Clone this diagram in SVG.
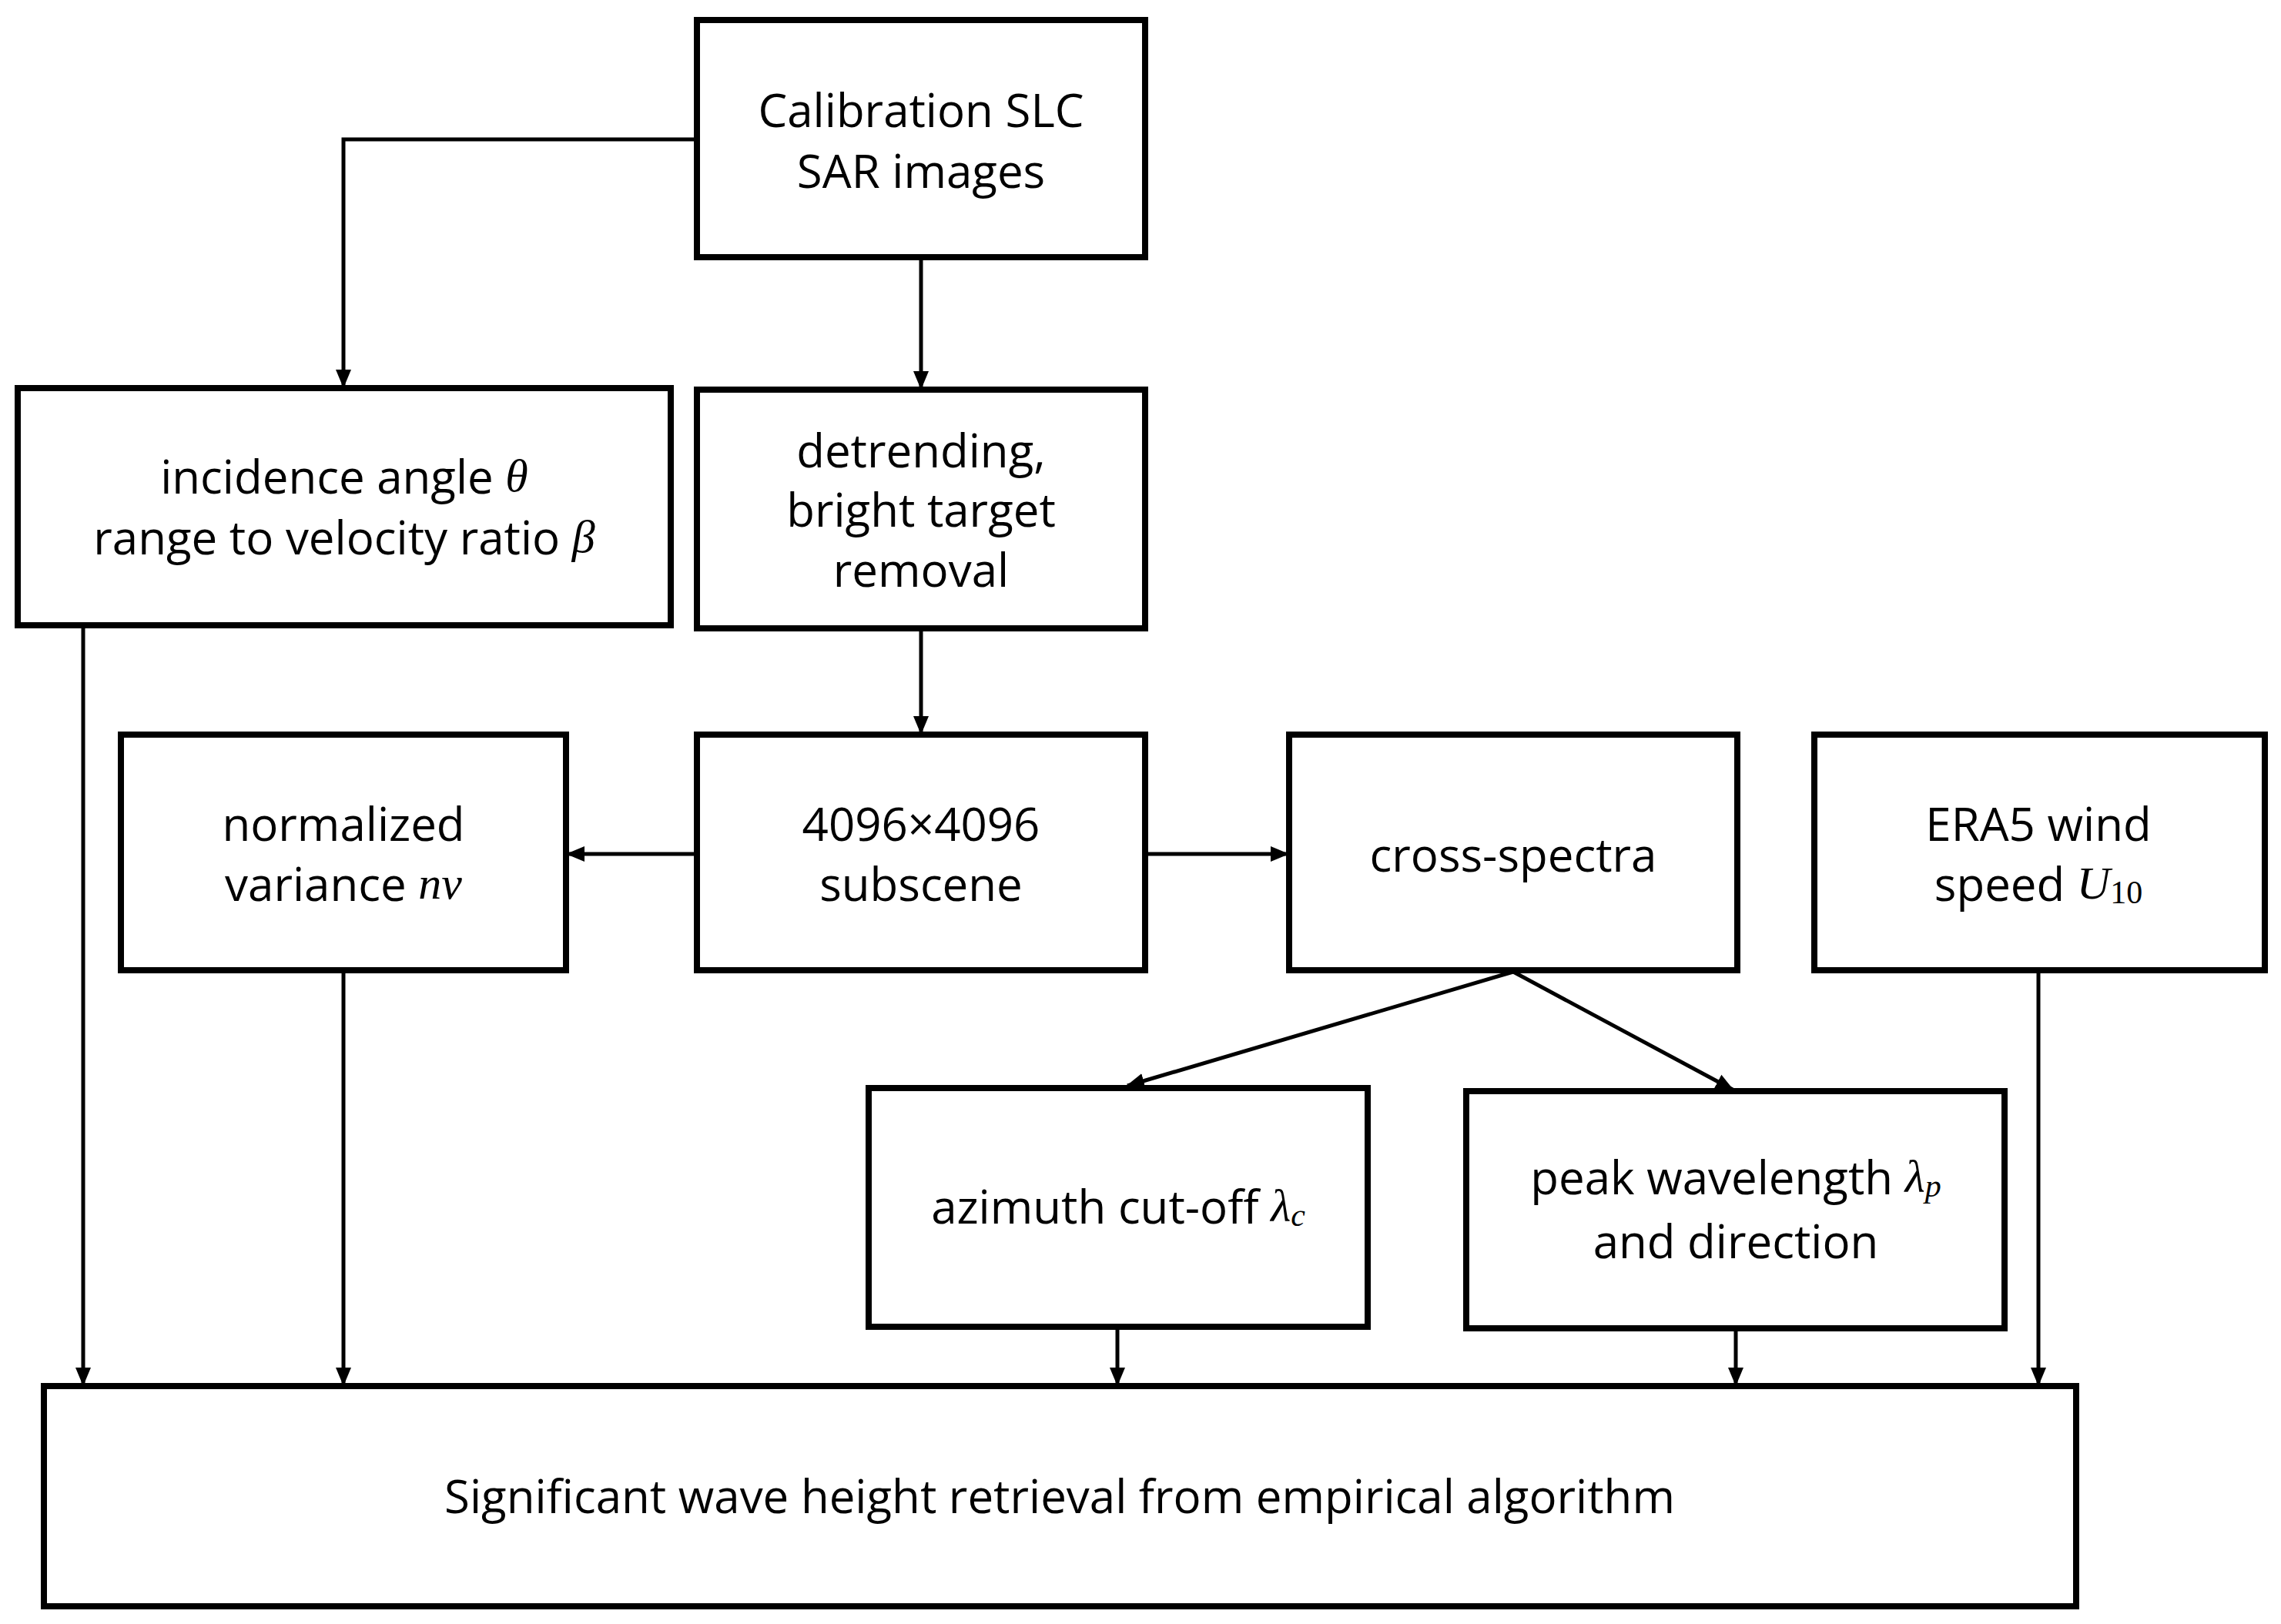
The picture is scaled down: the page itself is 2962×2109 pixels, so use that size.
<svg xmlns="http://www.w3.org/2000/svg" width="2962" height="2109" viewBox="0 0 2962 2109">
<style>
.b{fill:#fff;stroke:#000;stroke-width:8}
.t{font-family:"Open Sans","Noto Sans",sans-serif;font-size:60px;text-anchor:middle;dominant-baseline:central;fill:#000}
.m{font-family:"Liberation Serif",serif;font-style:italic}
.c{stroke:#000;stroke-width:5;fill:none;marker-end:url(#a)}
</style>
<defs><marker id="a" markerUnits="userSpaceOnUse" markerWidth="26" markerHeight="24" refX="22" refY="12" orient="auto"><path d="M0,2 L24,12 L0,22 Z" fill="#000"/></marker></defs>
<rect width="2962" height="2109" fill="#fff"/>
<g id="connectors">
<path class="c" d="M905,181 H446 V502"/>
<path class="c" d="M1196,334 V504"/>
<path class="c" d="M1196,816 V952"/>
<path class="c" d="M905,1109 H737"/>
<path class="c" d="M1487,1109 H1672"/>
<path class="c" d="M1965,1262 L1464,1410"/>
<path class="c" d="M1965,1262 L2250,1415"/>
<path class="c" d="M108,812 V1798"/>
<path class="c" d="M446,1260 V1798"/>
<path class="c" d="M1451,1723 V1798"/>
<path class="c" d="M2254,1725 V1798"/>
<path class="c" d="M2647,1260 V1798"/>
</g>
<g id="n1"><rect class="b" x="905" y="26" width="582" height="308"/><text class="t" x="1196" y="142">Calibration SLC</text><text class="t" x="1196" y="221">SAR images</text></g>
<g id="n2"><rect class="b" x="23" y="504" width="848" height="308"/><text class="t" x="447" y="618">incidence angle <tspan class="m">θ</tspan></text><text class="t" x="447" y="697">range to velocity ratio <tspan class="m">β</tspan></text></g>
<g id="n3"><rect class="b" x="905" y="506" width="582" height="310"/><text class="t" x="1196" y="584">detrending,</text><text class="t" x="1196" y="661">bright target</text><text class="t" x="1196" y="739">removal</text></g>
<g id="n4"><rect class="b" x="157" y="954" width="578" height="306"/><text class="t" x="446" y="1069">normalized</text><text class="t" x="446" y="1147">variance <tspan class="m">nv</tspan></text></g>
<g id="n5"><rect class="b" x="905" y="954" width="582" height="306"/><text class="t" x="1196" y="1069">4096×4096</text><text class="t" x="1196" y="1147">subscene</text></g>
<g id="n6"><rect class="b" x="1674" y="954" width="582" height="306"/><text class="t" x="1965" y="1109">cross-spectra</text></g>
<g id="n7"><rect class="b" x="2356" y="954" width="585" height="306"/><text class="t" x="2647" y="1069">ERA5 wind</text><text class="t" x="2647" y="1147">speed <tspan class="m">U</tspan><tspan font-family="Liberation Serif" font-size="42" dy="12">10</tspan></text></g>
<g id="n8"><rect class="b" x="1128" y="1413" width="648" height="310"/><text class="t" x="1452" y="1566">azimuth cut-off <tspan class="m">λ</tspan><tspan class="m" font-size="42" dy="12">c</tspan></text></g>
<g id="n9"><rect class="b" x="1904" y="1417" width="699" height="308"/><text class="t" x="2254" y="1528">peak wavelength <tspan class="m">λ</tspan><tspan class="m" font-size="42" dy="12">p</tspan></text><text class="t" x="2254" y="1611">and direction</text></g>
<g id="n10"><rect class="b" x="57" y="1800" width="2639" height="286"/><text class="t" x="1376" y="1942">Significant wave height retrieval from empirical algorithm</text></g>
</svg>
